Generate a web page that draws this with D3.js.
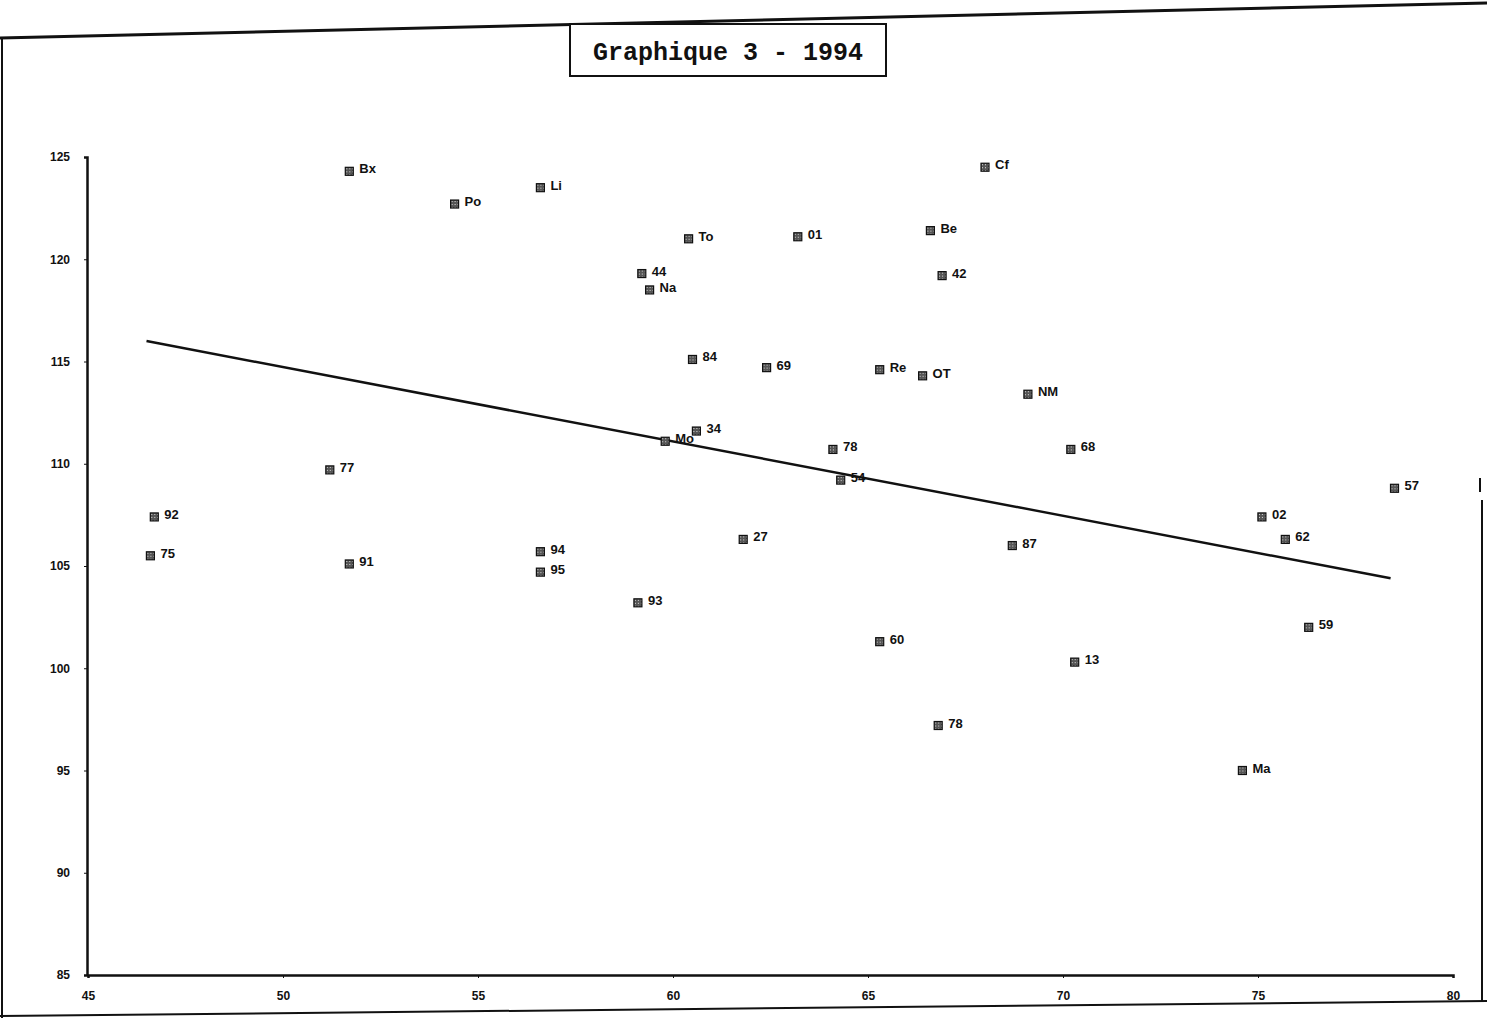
<!DOCTYPE html>
<html>
<head>
<meta charset="utf-8">
<script src="https://cdn.jsdelivr.net/npm/d3@7"></script>
<style>
  body { margin: 0; background: #fff; }
</style>
</head>
<body>
<div id="chart"></div>
<script>
// Points: label, x value, y value
const labels = ["Bx", "Po", "Li", "To", "01", "Be", "Cf", "42", "44", "Na",
    "84", "69", "Re", "OT", "NM", "34", "Mo", "78", "54", "68",
    "77", "92", "75", "91", "94", "95", "93", "27", "60", "87",
    "13", "78", "Ma", "59", "02", "62", "57"];
const xValues = [51.7, 54.4, 56.6, 60.4, 63.2, 66.6, 68.0, 66.9, 59.2, 59.4,
    60.5, 62.4, 65.3, 66.4, 69.1, 60.6, 59.8, 64.1, 64.3, 70.2,
    51.2, 46.7, 46.6, 51.7, 56.6, 56.6, 59.1, 61.8, 65.3, 68.7,
    70.3, 66.8, 74.6, 76.3, 75.1, 75.7, 78.5];
const yValues = [124.3, 122.7, 123.5, 121.0, 121.1, 121.4, 124.5, 119.2, 119.3, 118.5,
    115.1, 114.7, 114.6, 114.3, 113.4, 111.6, 111.1, 110.7, 109.2, 110.7,
    109.7, 107.4, 105.5, 105.1, 105.7, 104.7, 103.2, 106.3, 101.3, 106.0,
    100.3, 97.2, 95.0, 102.0, 107.4, 106.3, 108.8];

// Trend line ends
const trendX = [46.5, 78.4];
const trendY = [116.0, 104.4];

const xTicks = [45, 50, 55, 60, 65, 70, 75, 80];
const yTicks = [85, 90, 95, 100, 105, 110, 115, 120, 125];
const title = "Graphique 3 - 1994";

const width = 1487;
const height = 1018;

let svg = d3.select("#chart").append("svg")
    .attr("width", width)
    .attr("height", height);

// scanned page frame
const frame = svg.append("g")
    .attr("fill", "none")
    .attr("stroke", "#111");
frame.append("line").attr("x1", 0).attr("y1", 38).attr("x2", 1487).attr("y2", 3).attr("stroke-width", 3);
frame.append("line").attr("x1", 2).attr("y1", 37).attr("x2", 2).attr("y2", 1018).attr("stroke-width", 2);
frame.append("line").attr("x1", 0).attr("y1", 1016).attr("x2", 1487).attr("y2", 1001).attr("stroke-width", 2);
frame.append("line").attr("x1", 1482).attr("y1", 500).attr("x2", 1482).attr("y2", 1002).attr("stroke-width", 2);
frame.append("line").attr("x1", 1480).attr("y1", 478).attr("x2", 1480).attr("y2", 492).attr("stroke-width", 2);

// title box
svg.append("rect")
    .attr("x", 570)
    .attr("y", 24)
    .attr("width", 316)
    .attr("height", 52)
    .attr("fill", "#fff")
    .attr("stroke", "#111")
    .attr("stroke-width", 2);

svg.append("text")
    .attr("x", 728)
    .attr("y", 60)
    .attr("text-anchor", "middle")
    .style("font-family", "'Liberation Mono', 'Courier New', monospace")
    .style("font-weight", "bold")
    .style("font-size", "25px")
    .style("fill", "#111")
    .text(title);

let x = d3.scaleLinear().domain([45, 80]).range([88, 1453]);
let y = d3.scaleLinear().domain([85, 125]).range([975, 157]);

// y axis
let yAxis = svg.append("g")
    .attr("transform", "translate(87,0)")
    .call(d3.axisLeft(y).tickValues(yTicks).tickSize(3).tickPadding(14).tickFormat(d3.format("d")));
yAxis.select(".domain").attr("stroke", "#111").attr("stroke-width", 2.5);
yAxis.selectAll(".tick line").attr("stroke", "#111");
yAxis.selectAll("text")
    .style("font-family", "'Liberation Sans', Arial, sans-serif")
    .style("font-weight", "bold")
    .style("font-size", "12px")
    .style("fill", "#111");

// x axis
let xAxis = svg.append("g")
    .attr("transform", "translate(0,975)")
    .call(d3.axisBottom(x).tickValues(xTicks).tickSize(3).tickPadding(13).tickFormat(d3.format("d")));
xAxis.select(".domain").attr("stroke", "#111").attr("stroke-width", 2.5);
xAxis.selectAll(".tick line").attr("stroke", "#111");
xAxis.selectAll("text")
    .style("font-family", "'Liberation Sans', Arial, sans-serif")
    .style("font-weight", "bold")
    .style("font-size", "12px")
    .style("fill", "#111");

// trend line
let trend = trendX.map((v, i) => [v, trendY[i]]);
svg.append("path")
    .datum(trend)
    .attr("fill", "none")
    .attr("stroke", "#111")
    .attr("stroke-width", 2.5)
    .attr("d", d3.line().x(d => x(d[0])).y(d => y(d[1])));

// hatched marker pattern
let pattern = svg.append("defs").append("pattern")
    .attr("id", "hatch")
    .attr("patternUnits", "userSpaceOnUse")
    .attr("width", 3)
    .attr("height", 3);
pattern.append("rect").attr("width", 3).attr("height", 3).attr("fill", "#555");
pattern.append("rect").attr("width", 1).attr("height", 1).attr("fill", "#ddd");

let points = labels.map((d, i) => ({label: d, x: xValues[i], y: yValues[i]}));

let pts = svg.append("g").selectAll("g")
    .data(points)
    .join("g")
    .attr("transform", d => `translate(${x(d.x)},${y(d.y)})`);

pts.append("rect")
    .attr("x", -4)
    .attr("y", -4)
    .attr("width", 8)
    .attr("height", 8)
    .attr("fill", "url(#hatch)")
    .attr("stroke", "#111")
    .attr("stroke-width", 1.2);

pts.append("text")
    .attr("x", 10)
    .attr("y", 2)
    .style("font-family", "'Liberation Sans', Arial, sans-serif")
    .style("font-weight", "bold")
    .style("font-size", "13px")
    .style("fill", "#111")
    .text(d => d.label);
</script>
</body>
</html>
